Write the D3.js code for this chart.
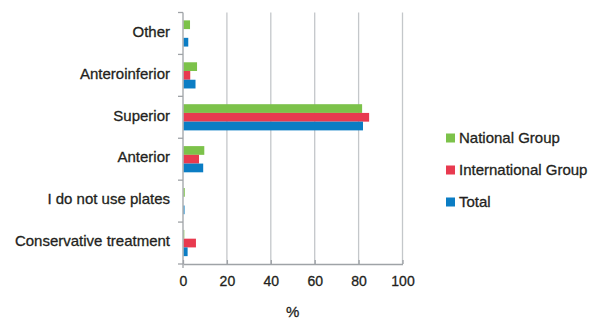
<!DOCTYPE html>
<html>
<head>
<meta charset="utf-8">
<script src="https://cdn.jsdelivr.net/npm/d3@7"></script>
<style>
  html, body { margin: 0; padding: 0; background: #fff; }
  svg { display: block; font-family: "Liberation Sans", Arial, Helvetica, sans-serif; }
  .lbl { fill: #231f20; stroke: #231f20; stroke-width: 0.3px; }
</style>
</head>
<body>
<svg id="chart" width="598" height="323"></svg>
<script>
// Fixation approach by group, percent of respondents
const categories = ["Other", "Anteroinferior", "Superior", "Anterior", "I do not use plates", "Conservative treatment"];
const seriesNames = ["National Group", "International Group", "Total"];
const nationalGroup = [3.2, 6.4, 81.6, 9.7, 0.8, 0.6];
const internationalGroup = [0, 3.3, 84.8, 7.3, 0, 5.9];
const total = [2.4, 5.7, 82.0, 9.2, 0.7, 2.1];
const xTicks = [0, 20, 40, 60, 80, 100];
const xTitle = "%";
const colors = ["#7cc24a", "#e83a4f", "#0b7dc4"];

const seriesValues = [nationalGroup, internationalGroup, total];

const svg = d3.select("#chart");
const margin = { left: 183, right: 196, top: 12.5, bottom: 59 };
const W = 598, H = 323;
const innerH = H - margin.top - margin.bottom;

const g = svg.append("g").attr("transform", `translate(${margin.left},${margin.top})`);

const x = d3.scaleLinear().domain([0, 100]).range([0, 219.5]);
const y = d3.scaleBand().domain(categories).range([0, innerH]).paddingInner(0).paddingOuter(0);
const inner = d3.scaleBand().domain(seriesNames).range([0, y.bandwidth()]).paddingOuter(0.9).paddingInner(0);

const axisColor = "#9fa3a7";
const fontSize = 15;

// vertical gridlines
g.append("g").selectAll("line")
  .data(xTicks.filter(d => d > 0))
  .join("line")
  .attr("x1", d => x(d)).attr("x2", d => x(d))
  .attr("y1", 0).attr("y2", innerH)
  .attr("stroke", "#c4c7ca").attr("stroke-width", 1.3);

// bars
const groups = g.append("g").selectAll("g")
  .data(categories)
  .join("g")
  .attr("transform", d => `translate(0,${y(d)})`);

groups.selectAll("rect")
  .data((c, i) => seriesNames.map((s, k) => ({ s, k, v: seriesValues[k][i] })))
  .join("rect")
  .attr("x", 0.5)
  .attr("y", d => inner(d.s))
  .attr("width", d => Math.max(0, x(d.v) - 0.5))
  .attr("height", inner.bandwidth())
  .attr("fill", d => colors[d.k]);

// bottom axis
const xAxis = g.append("g")
  .attr("transform", `translate(0,${innerH})`)
  .call(d3.axisBottom(x).tickValues(xTicks).tickSize(0).tickPadding(12));
xAxis.select(".domain").attr("stroke", axisColor).attr("stroke-width", 1.3);
xAxis.selectAll(".tick line").remove();
xAxis.selectAll(".tick").append("line")
  .attr("y1", -4).attr("y2", 0)
  .attr("stroke", axisColor).attr("stroke-width", 1.3);
xAxis.selectAll("text")
  .attr("class", "lbl")
  .attr("font-size", 14)
  .attr("font-family", "Liberation Sans, Arial, sans-serif");

// left axis: ticks at category boundaries
const leftAxis = g.append("g");
leftAxis.append("line")
  .attr("x1", 0).attr("x2", 0).attr("y1", 0).attr("y2", innerH + 4)
  .attr("stroke", axisColor).attr("stroke-width", 1.3);
const bounds = categories.map(c => y(c)).concat([innerH]);
leftAxis.selectAll("line.tk")
  .data(bounds)
  .join("line").attr("class", "tk")
  .attr("x1", -5).attr("x2", 0)
  .attr("y1", d => d).attr("y2", d => d)
  .attr("stroke", axisColor).attr("stroke-width", 1.3);

// category labels
g.append("g").selectAll("text")
  .data(categories)
  .join("text")
  .attr("class", "lbl")
  .attr("x", -13)
  .attr("y", d => y(d) + y.bandwidth() / 2 - 2)
  .attr("dy", "0.35em")
  .attr("text-anchor", "end")
  .attr("font-size", fontSize)
  .text(d => d);

// axis title
svg.append("text")
  .attr("class", "lbl")
  .attr("x", margin.left + x(50))
  .attr("y", 312)
  .attr("dy", "0.35em")
  .attr("text-anchor", "middle")
  .attr("font-size", fontSize)
  .text(xTitle);

// legend
const legend = svg.append("g").attr("transform", "translate(446,138)");
const items = legend.selectAll("g")
  .data(seriesNames)
  .join("g")
  .attr("transform", (d, i) => `translate(0,${i * 32})`);
items.append("rect")
  .attr("x", 0).attr("y", -4.5).attr("width", 9).attr("height", 9)
  .attr("fill", (d, i) => colors[i]);
items.append("text")
  .attr("class", "lbl")
  .attr("x", 13).attr("y", 0).attr("dy", "0.35em")
  .attr("font-size", fontSize)
  .text(d => d);
</script>
</body>
</html>
